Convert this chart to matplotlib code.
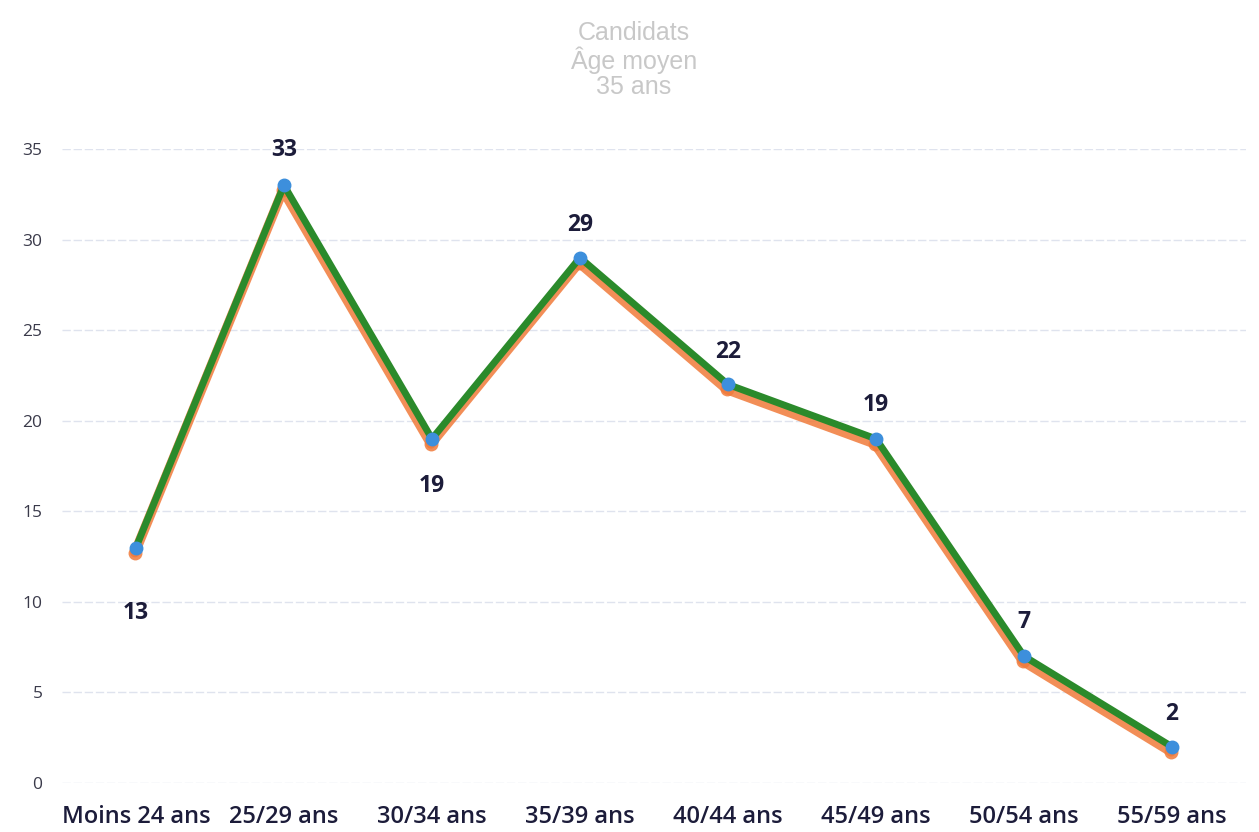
import matplotlib.pyplot as plt
import matplotlib.transforms as mtransforms

categories = ["Moins 24 ans", "25/29 ans", "30/34 ans", "35/39 ans",
              "40/44 ans", "45/49 ans", "50/54 ans", "55/59 ans"]
values = [13, 33, 19, 29, 22, 19, 7, 2]
# label offset in pixels (negative = below the point)
label_offsets = [-65, 35, -47, 33, 32, 34, 34, 33]
yticks = [0, 5, 10, 15, 20, 25, 30, 35]

fig = plt.figure(figsize=(12.59, 8.32), dpi=100)
ax = fig.add_axes([0.0492, 0.0589, 0.9405, 0.762])

x = range(len(categories))

# orange shadow slightly below the green line
shadow = mtransforms.offset_copy(ax.transData, fig=fig, x=-1, y=-5, units='dots')
ax.plot(x, values, color='#f07a3a', linewidth=7, alpha=0.85, transform=shadow,
        solid_capstyle='round', solid_joinstyle='round', marker='o', markersize=10,
        markeredgewidth=0, zorder=2)
ax.plot(x, values, color='#2b8a2b', linewidth=5, solid_joinstyle='round', zorder=3)
ax.plot(x, values, linestyle='none', marker='o', markersize=9,
        markerfacecolor='#3d8fdc', markeredgecolor='#3d8fdc', zorder=4)

for i, v in enumerate(values):
    ax.annotate(str(v), (i, v), xytext=(0, label_offsets[i]), textcoords='offset pixels',
                ha='center', va='center', fontsize=16.5, fontweight='bold',
                color='#1c1c3a', family='Open Sans')

ax.set_xlim(-0.5, len(categories) - 0.5)
ax.set_ylim(0, 35)
ax.set_yticks(yticks)
ax.set_xticks(list(x))
ax.set_xticklabels(categories, fontsize=17, fontweight='semibold',
                   family='Open Sans', color='#1c1c3a')
for lab in ax.get_yticklabels():
    lab.set_family('Open Sans')
    lab.set_fontsize(12.5)
    lab.set_color('#3a3a4a')
ax.tick_params(axis='both', length=0)
ax.tick_params(axis='y', pad=14)
ax.tick_params(axis='x', pad=16)
ax.grid(axis='y', color='#dfe3ee', linewidth=1, linestyle=(0, (6, 2)))
ax.set_axisbelow(True)
for s in ax.spines.values():
    s.set_visible(False)

title_lines = ["Candidats", "Âge moyen", "35 ans"]
for k, line in enumerate(title_lines):
    fig.text(0.5035, 0.9603 - k * 0.0324, line, ha='center', va='center', fontsize=18,
             family='Liberation Sans', color='#c8c8c8')

fig.savefig("out.png", dpi=100)
